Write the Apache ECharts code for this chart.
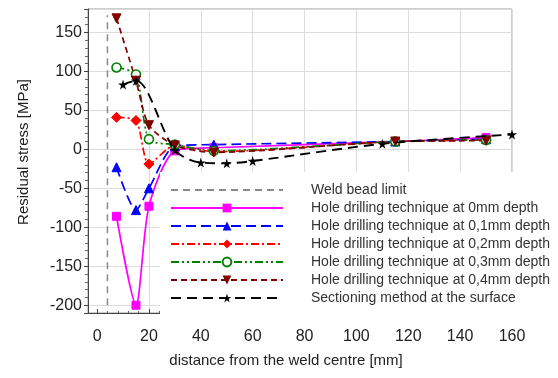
<!DOCTYPE html>
<html>
<head>
<meta charset="utf-8">
<script src="https://cdn.jsdelivr.net/npm/echarts@6/dist/echarts.min.js"></script>
<style>
  html, body { margin: 0; padding: 0; background: #fff; }
  #chart { width: 558px; height: 378px; }
</style>
</head>
<body>
<div id="chart"></div>
<script>
// Distances from the weld centre [mm] where the hole drilling measurements were taken
const holeX = [7.5, 15, 20, 30, 45, 115, 150];
// Residual stress [MPa] at each depth
const depth00 = [-86, -200, -73, -2, 2, 10, 15];
const depth01 = [-23, -78, -50, 4, 6, 10, 13];
const depth02 = [41, 37, -19, 5, -3, 10, 12];
const depth03 = [105, 96, 13, 6, -2, 10, 12];
const depth04 = [168, 88, 31, 5, -4, 10, 11];
// Sectioning method at the surface
const sectX = [10, 15, 30, 40, 50, 60, 110, 160];
const sectY = [83, 88, -1, -17, -18, -15, 7, 19];
// Weld bead limit (vertical marker)
const weldX = 4;
const weldY = [-200, 172];

const names = [
  'Weld bead limit',
  'Hole drilling technique at 0mm depth',
  'Hole drilling technique at 0,1mm depth',
  'Hole drilling technique at 0,2mm depth',
  'Hole drilling technique at 0,3mm depth',
  'Hole drilling technique at 0,4mm depth',
  'Sectioning method at the surface'
];

const pair = (xs, ys) => xs.map((x, i) => [x, ys[i]]);
const FONT = 'Liberation Sans, Arial, sans-serif';
const GRID = '#dcdcdc';
const CLEAR = 'rgba(0,0,0,0)';

const chart = echarts.init(document.getElementById('chart'), null, { renderer: 'canvas' });

function holeSeries(name, ys, color, dash, symbol, size, hollow) {
  return {
    name, type: 'line', data: pair(holeX, ys), smooth: 0.25,
    symbol, symbolSize: size,
    lineStyle: { color, width: 1.7, type: dash },
    itemStyle: hollow ? { color: '#fff', borderColor: color, borderWidth: 1.6 } : { color, borderColor: color },
    z: 3
  };
}

chart.setOption({
  animation: false,
  backgroundColor: '#fff',
  grid: { left: 88, top: 9, right: 46, bottom: 65, show: true, borderColor: '#9a9a9a', borderWidth: 1 },
  xAxis: {
    type: 'value', min: -3.5, max: 160, splitNumber: 8,
    axisLine: { onZero: false, lineStyle: { color: '#444', width: 1 } },
    axisTick: { inside: true, length: 4, lineStyle: { color: '#444' } },
    minorTick: { show: true, splitNumber: 5, length: 2, lineStyle: { color: '#666' } },
    axisLabel: { showMinLabel: false, color: '#222', fontSize: 16, fontFamily: FONT, margin: 16 },
    // no vertical grid line at the axis start or at 0
    splitLine: { show: true, lineStyle: { color: [CLEAR, CLEAR, GRID, GRID, GRID, GRID, GRID, GRID, GRID, GRID], width: 1 } }
  },
  yAxis: {
    type: 'value', min: -210, max: 180, splitNumber: 8,
    axisLine: { onZero: false, lineStyle: { color: '#444', width: 1 } },
    axisTick: { length: 4, lineStyle: { color: '#444' } },
    minorTick: { show: true, splitNumber: 5, length: 3, lineStyle: { color: '#666' } },
    axisLabel: { showMinLabel: false, showMaxLabel: false, color: '#222', fontSize: 16, fontFamily: FONT, margin: 6 },
    splitLine: { show: true, lineStyle: { color: GRID, width: 1 } }
  },
  legend: {
    orient: 'vertical', left: 160, top: 172,
    data: names,
    backgroundColor: '#fff',
    padding: [10, 40, 8, 10],
    itemWidth: 112, itemHeight: 11, itemGap: 2,
    textStyle: { color: '#333', fontSize: 14, lineHeight: 16, fontFamily: FONT, padding: [0, 0, 0, 23] },
    z: 10
  },
  graphic: [
    {
      type: 'text', x: 24, y: 152, rotation: Math.PI / 2,
      style: { text: 'Residual stress [MPa]', fill: '#222', font: '15px ' + FONT, textAlign: 'center', textVerticalAlign: 'middle' }
    },
    {
      type: 'text', x: 286, y: 361,
      style: { text: 'distance from the weld centre [mm]', fill: '#222', font: '15px ' + FONT, textAlign: 'center', textVerticalAlign: 'middle' }
    }
  ],
  series: [
    {
      name: names[0], type: 'line', data: weldY.map(y => [weldX, y]),
      symbol: 'none', lineStyle: { color: '#8a8a8a', width: 1.5, type: [7, 5] },
      itemStyle: { color: '#8a8a8a', opacity: 0 }, z: 2
    },
    holeSeries(names[1], depth00, '#ff00ff', 'solid', 'rect', 8, false),
    holeSeries(names[2], depth01, '#0000ff', [10, 5], 'triangle', 9, false),
    holeSeries(names[3], depth02, '#ff0000', [8, 3, 2, 3], 'diamond', 10, false),
    holeSeries(names[4], depth03, '#008000', [8, 3, 2, 3, 2, 3], 'circle', 9, true),
    holeSeries(names[5], depth04, '#800000', [6, 4], 'path://M0,0 L10,0 L5,9 Z', 9, false),
    {
      name: names[6], type: 'line', data: pair(sectX, sectY), smooth: 0.3,
      symbol: 'path://M50,0 L61,35 L98,35 L68,57 L79,91 L50,70 L21,91 L32,57 L2,35 L39,35 Z', symbolSize: 10,
      lineStyle: { color: '#000', width: 1.9, type: [10, 6] },
      itemStyle: { color: '#000' }, z: 4
    }
  ]
});
</script>
</body>
</html>
